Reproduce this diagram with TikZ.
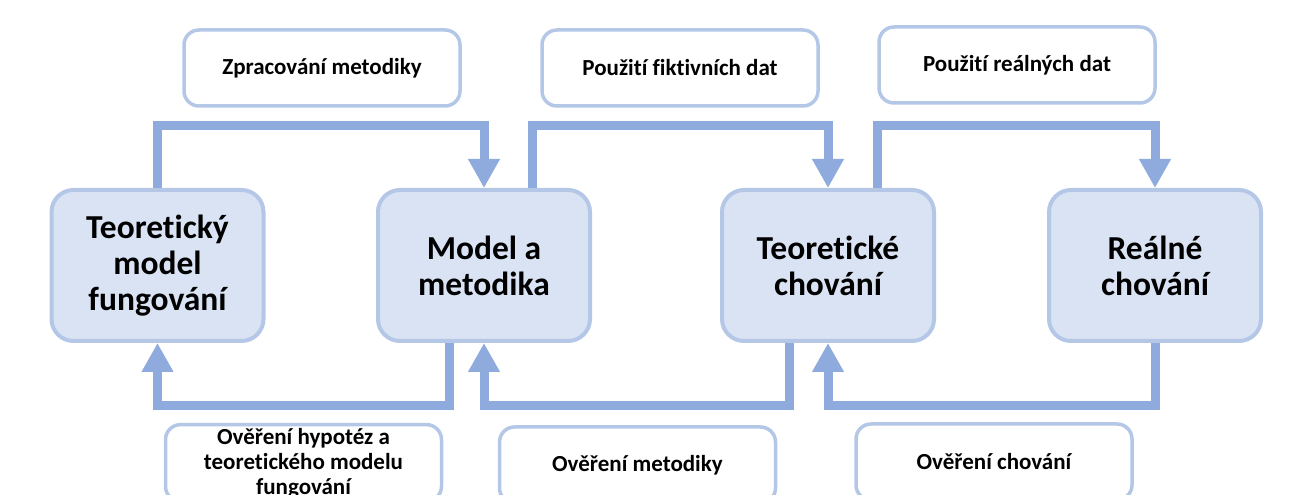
\documentclass[tikz,border=0pt]{standalone}
\usepackage{fontspec}
\setmainfont{Carlito}[Ligatures=NoCommon]
\usetikzlibrary{arrows.meta}
\definecolor{boxfill}{HTML}{DAE3F3}
\definecolor{boxline}{HTML}{B4C7E7}
\definecolor{flowline}{HTML}{8FAADC}

\begin{document}
\begin{tikzpicture}[x=1pt, y=1pt,
    big/.style={draw=boxline, line width=4pt, fill=boxfill, rounded corners=22pt,
        minimum width=212pt, minimum height=151pt, align=center,
        font=\fontsize{33.5}{36}\selectfont\bfseries},
    lab/.style={draw=boxline, line width=3.5pt, fill=white, rounded corners=15pt,
        minimum width=276pt, minimum height=76pt, align=center,
        font=\fontsize{23}{25}\selectfont\bfseries},
    flow/.style={draw=flowline, line width=9pt, -{Triangle[width=30pt, length=29pt]}}]
    \useasboundingbox (0, 0) rectangle (1298, 495);
    \clip (0, 0) rectangle (1298, 495);
    \node[big] (tmf) at (157.5, 229.5) {Teoretický\\model\\fungování};
    \node[big] (mm) at (484, 229.5) {Model a\\metodika};
    \node[big] (tch) at (828, 229.5) {Teoretické\\chování};
    \node[big] (rch) at (1155, 229.5) {Reálné\\chování};
    \node[lab] (zm) at (322, 427) {Zpracování metodiky};
    \node[lab] (pfd) at (680, 427) {Použití fiktivních dat};
    \node[lab] (prd) at (1017, 430) {Použití reálných dat};
    \node[lab] (ohm) at (303.5, 32) {Ověření hypotéz a\\teoretického modelu\\fungování};
    \node[lab] (om) at (637.5, 30) {Ověření metodiky};
    \node[lab] (och) at (994, 33) {Ověření chování};
    \draw[flow] (tmf.north) -- ++(0, 62) -| (mm.north);
    \draw[flow] ([xshift=48pt]mm.north) -- ++(0, 62) -| (tch.north);
    \draw[flow] ([xshift=49pt]tch.north) -- ++(0, 62) -| (rch.north);
    \draw[flow] ([xshift=-35pt]mm.south) -- ++(0, -63) -| (tmf.south);
    \draw[flow] ([xshift=-39pt]tch.south) -- ++(0, -63) -| (mm.south);
    \draw[flow] (rch.south) -- ++(0, -63) -| (tch.south);
\end{tikzpicture}
\end{document}
